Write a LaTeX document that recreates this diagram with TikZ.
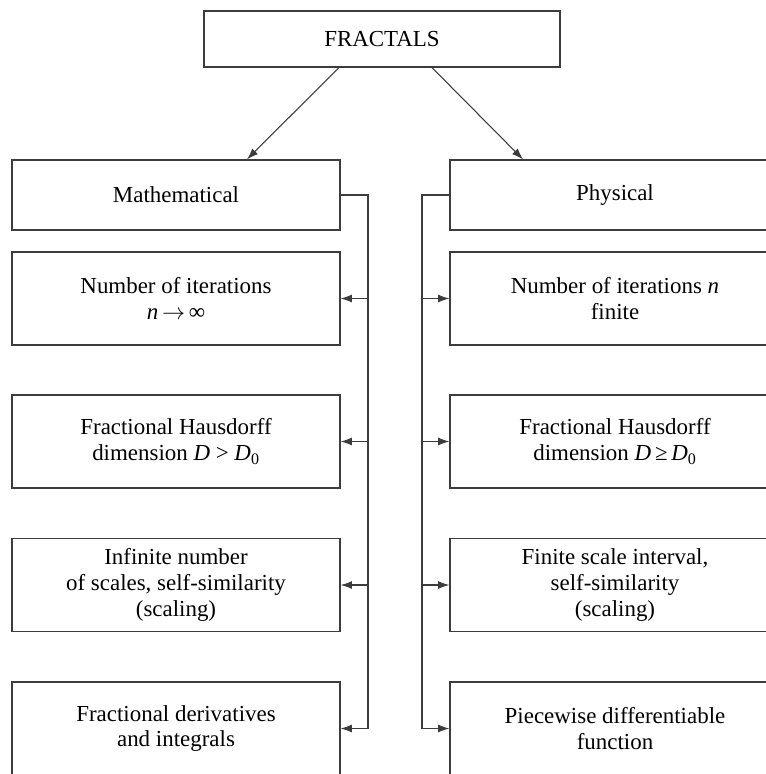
\documentclass[tikz,border=0pt]{standalone}
\usepackage{fontspec}
\setmainfont{Liberation Serif}
\usetikzlibrary{arrows.meta,calc}
\definecolor{ln}{HTML}{3C3C3C}
\tikzset{
  box/.style={draw=ln,line width=0.9pt,rectangle,align=center,inner sep=0pt,
    font=\fontsize{17.2pt}{19.4pt}\selectfont,text=black},
  lbox/.style={box,minimum width=246pt,minimum height=69.75pt},
  rbox/.style={box,minimum width=247.5pt,minimum height=69.75pt},
  conn/.style={draw=ln,line width=0.8pt},
  arr/.style={conn,-{Latex[length=8.5pt,width=6pt]}}
}
\begin{document}
\begin{tikzpicture}[x=0.75pt,y=-0.75pt]
\useasboundingbox (0,0) rectangle (766,774);
\clip (0,0) rectangle (766,774);
\node[box,minimum width=267pt,minimum height=42pt] (frac) at (382,39) {FRACTALS};
\node[box,minimum width=246pt,minimum height=52.5pt] (math) at (176,195) {Mathematical};
\node[box,minimum width=247.5pt,minimum height=52.5pt] (phys) at (615,195) {Physical};
\node[lbox] (l2) at (176,298.5) {Number of iterations\\\textit{n}\,$\to$\,∞};
\node[lbox] (l3) at (176,441.5) {Fractional Hausdorff\\dimension \textit{D} > \textit{D}\textsubscript{0}};
\node[lbox] (l4) at (176,585) {Infinite number\\of scales, self-similarity\\(scaling)};
\node[lbox] (l5) at (176,728.5) {Fractional derivatives\\and integrals};
\node[rbox] (r2) at (615,298.5) {Number of iterations \textit{n}\\finite};
\node[rbox] (r3) at (615,441.5) {Fractional Hausdorff\\dimension \textit{D}\,≥\,\textit{D}\textsubscript{0}};
\node[rbox] (r4) at (615,585) {Finite scale interval,\\self-similarity\\(scaling)};
\node[rbox] (r5) at (615,728.5) {Piecewise differentiable\\function};
\coordinate (bl) at (368,195);
\coordinate (br) at (422,195);
\draw[arr] ([xshift=-32.25pt]frac.south) -- ([xshift=53.25pt]math.north);
\draw[arr] ([xshift=37.5pt]frac.south) -- ([xshift=-69pt]phys.north);
\draw[arr] (math.east) -- (bl) |- (l5.east);
\draw[arr] (l2.east -| bl) -- (l2.east);
\draw[arr] (l3.east -| bl) -- (l3.east);
\draw[arr] (l4.east -| bl) -- (l4.east);
\draw[arr] (phys.west) -- (br) |- (r5.west);
\draw[arr] (r2.west -| br) -- (r2.west);
\draw[arr] (r3.west -| br) -- (r3.west);
\draw[arr] (r4.west -| br) -- (r4.west);
\end{tikzpicture}
\end{document}
